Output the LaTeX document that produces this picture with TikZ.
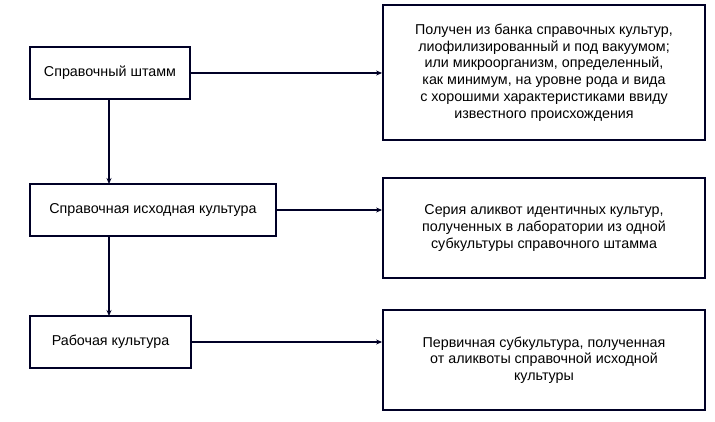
\documentclass[tikz,border=0pt]{standalone}
\usepackage{fontspec}
\setmainfont{Liberation Sans}
\usetikzlibrary{arrows.meta}
\begin{document}
\begin{tikzpicture}[x=1pt,y=-1pt,
  box/.style={draw=black!85!blue, line width=1.8pt, inner sep=0pt, font=\fontsize{14.3}{16.7}\selectfont, align=center},
  conn/.style={draw=black!85!blue, line width=1.4pt, -{Stealth[length=6pt,width=5pt]}}]
\useasboundingbox[fill=white] (0,0) rectangle (715,422);
\node[box, minimum width=160, minimum height=52] (a) at (110,73) {Справочный штамм};
\node[box, minimum width=246, minimum height=52] (b) at (153,210) {Справочная исходная культура};
\node[box, minimum width=161, minimum height=52] (c) at (110.5,342) {Рабочая культура};
\node[box, minimum width=322, minimum height=135] (d) at (544,72.5) {Получен из банка справочных культур,\\лиофилизированный и под вакуумом;\\или микроорганизм, определенный,\\как минимум, на уровне рода и вида\\с хорошими характеристиками ввиду\\известного происхождения};
\node[box, minimum width=322, minimum height=100] (e) at (544,228) {Серия аликвот идентичных культур,\\полученных в лаборатории из одной\\субкультуры справочного штамма};
\node[box, minimum width=322, minimum height=100] (f) at (544,360) {Первичная субкультура, полученная\\от аликвоты справочной исходной\\культуры};
\coordinate (a1) at (109,99);
\coordinate (b0) at (109,184);
\coordinate (b1) at (109,236);
\coordinate (c0) at (109,316);
\draw[conn] (a1) -- (b0);
\draw[conn] (b1) -- (c0);
\draw[conn] (a.east) -- (d.west |- a.east);
\draw[conn] (b.east) -- (e.west |- b.east);
\draw[conn] (c.east) -- (f.west |- c.east);
\end{tikzpicture}
\end{document}
